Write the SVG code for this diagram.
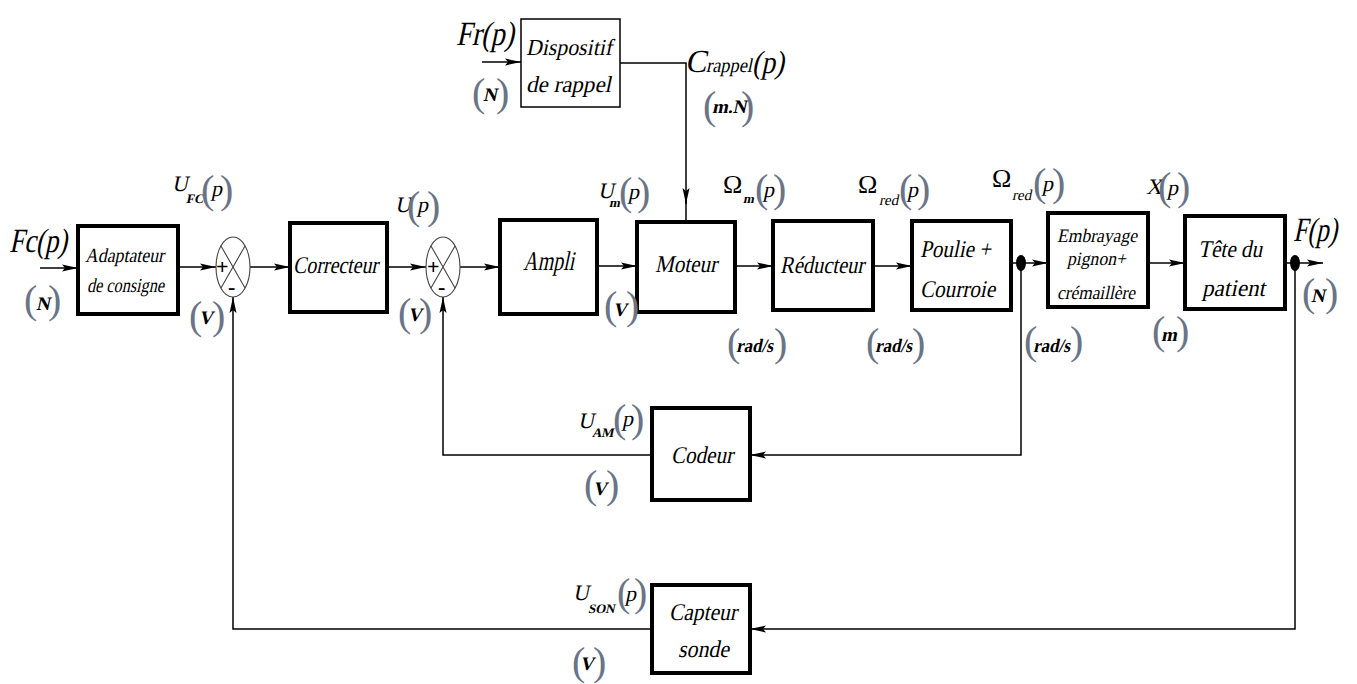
<svg xmlns="http://www.w3.org/2000/svg" width="1357" height="684" viewBox="0 0 1357 684">
<defs>
<style>
.bx{fill:#fff;stroke:#000;stroke-width:4}
.bt{fill:#fff;stroke:#000;stroke-width:1.5}
.sm{fill:#fff;stroke:#444;stroke-width:1.1}
.ln{fill:none;stroke:#000;stroke-width:1.5}
text{font-family:"Liberation Serif","Times New Roman",serif;font-style:normal;fill:#000}
.lb{font-size:24px}
.big{font-size:34px}
.par{font-size:40px;fill:#6a7487}
.u{font-size:19px;font-weight:bold}
.v{font-size:22px}
.s{font-size:13px;font-weight:bold}
.om{font-size:26px}
.sg{font-size:22px;font-weight:bold}
</style>
<marker id="ar" markerWidth="16" markerHeight="8" refX="16" refY="4" orient="auto" markerUnits="userSpaceOnUse">
<path d="M0,0.5 L16,4 L0,7.5 L3,4 Z" fill="#000"/>
</marker>
</defs>

<g id="connectors">
<path class="ln" d="M40,268 H78" marker-end="url(#ar)"/>
<path class="ln" d="M178,267 H216" marker-end="url(#ar)"/>
<path class="ln" d="M250,267 H290" marker-end="url(#ar)"/>
<path class="ln" d="M387,267 H426" marker-end="url(#ar)"/>
<path class="ln" d="M460,267 H500" marker-end="url(#ar)"/>
<path class="ln" d="M597,266 H637" marker-end="url(#ar)"/>
<path class="ln" d="M735,266 H773" marker-end="url(#ar)"/>
<path class="ln" d="M873,266 H912" marker-end="url(#ar)"/>
<path class="ln" d="M1011,263 H1048" marker-end="url(#ar)"/>
<path class="ln" d="M1148,263 H1185" marker-end="url(#ar)"/>
<path class="ln" d="M1285,263 H1323" marker-end="url(#ar)"/>
<path class="ln" d="M482,62 H521" marker-end="url(#ar)"/>
<path class="ln" d="M620,63 H686 V204" marker-end="url(#ar)"/>
<path class="ln" d="M686,200 V222"/>
<path class="ln" d="M1021,263 V455 H750" marker-end="url(#ar)"/>
<path class="ln" d="M652,455 H443 V297" marker-end="url(#ar)"/>
<path class="ln" d="M1295,263 V629 H750" marker-end="url(#ar)"/>
<path class="ln" d="M652,629 H233 V297" marker-end="url(#ar)"/>
<ellipse cx="1021" cy="263" rx="5" ry="8" fill="#000"/>
<ellipse cx="1295" cy="263" rx="5" ry="8" fill="#000"/>
</g>

<g id="adaptateur">
<rect class="bx" x="78" y="226" width="100" height="88"/>
<text transform="translate(85,262) skewX(-12)" font-size="20" textLength="79" lengthAdjust="spacingAndGlyphs">Adaptateur</text>
<text transform="translate(87,292) skewX(-12)" font-size="20" textLength="77" lengthAdjust="spacingAndGlyphs">de consigne</text>
</g>

<g id="sommateur1">
<ellipse class="sm" cx="233" cy="267" rx="17" ry="30"/>
<path class="sm" d="M221,246 L245,288 M245,246 L221,288"/>
<text class="sg" x="216" y="274">+</text>
<text class="sg" x="228" y="294">-</text>
</g>

<g id="correcteur">
<rect class="bx" x="290" y="223" width="97" height="89"/>
<text class="lb" transform="translate(293,273) skewX(-12)" textLength="85" lengthAdjust="spacingAndGlyphs">Correcteur</text>
</g>

<g id="sommateur2">
<ellipse class="sm" cx="443" cy="267" rx="17" ry="30"/>
<path class="sm" d="M431,246 L455,288 M455,246 L431,288"/>
<text class="sg" x="427" y="274">+</text>
<text class="sg" x="438" y="294">-</text>
</g>

<g id="ampli">
<rect class="bx" x="500" y="220" width="97" height="94"/>
<text transform="translate(523,270) skewX(-12)" font-size="27" textLength="51" lengthAdjust="spacingAndGlyphs">Ampli</text>
</g>

<g id="moteur">
<rect class="bx" x="637" y="222" width="98" height="90"/>
<text class="lb" transform="translate(655,272) skewX(-12)" textLength="62" lengthAdjust="spacingAndGlyphs">Moteur</text>
</g>

<g id="reducteur">
<rect class="bx" x="773" y="221" width="100" height="89"/>
<text class="lb" transform="translate(780,273) skewX(-12)" textLength="84" lengthAdjust="spacingAndGlyphs">Réducteur</text>
</g>

<g id="poulie">
<rect class="bx" x="912" y="221" width="99" height="89"/>
<text transform="translate(920,257) skewX(-12)" font-size="24" textLength="71" lengthAdjust="spacingAndGlyphs">Poulie +</text>
<text transform="translate(920,297) skewX(-12)" font-size="24" textLength="75" lengthAdjust="spacingAndGlyphs">Courroie</text>
</g>

<g id="embrayage">
<rect class="bx" x="1048" y="213" width="100" height="94"/>
<text transform="translate(1057,242) skewX(-12)" font-size="19" textLength="80" lengthAdjust="spacingAndGlyphs">Embrayage</text>
<text transform="translate(1067,265) skewX(-12)" font-size="19" textLength="59" lengthAdjust="spacingAndGlyphs">pignon+</text>
<text transform="translate(1057,299) skewX(-12)" font-size="19" textLength="78" lengthAdjust="spacingAndGlyphs">crémaillère</text>
</g>

<g id="tete">
<rect class="bx" x="1185" y="216" width="100" height="93"/>
<text class="lb" transform="translate(1198,257) skewX(-12)" textLength="64" lengthAdjust="spacingAndGlyphs">Tête du</text>
<text class="lb" transform="translate(1202,296) skewX(-12)" textLength="63" lengthAdjust="spacingAndGlyphs">patient</text>
</g>

<g id="dispositif">
<rect class="bt" x="521" y="19" width="99" height="88"/>
<text transform="translate(526,55) skewX(-12)" font-size="23" textLength="86" lengthAdjust="spacingAndGlyphs">Dispositif</text>
<text transform="translate(526,92) skewX(-12)" font-size="23" textLength="85" lengthAdjust="spacingAndGlyphs">de rappel</text>
</g>

<g id="codeur">
<rect class="bx" x="652" y="408" width="98" height="92"/>
<text class="lb" transform="translate(671,463) skewX(-12)" textLength="62" lengthAdjust="spacingAndGlyphs">Codeur</text>
</g>

<g id="capteur">
<rect class="bx" x="652" y="585" width="98" height="88"/>
<text class="lb" transform="translate(669,620) skewX(-12)" textLength="68" lengthAdjust="spacingAndGlyphs">Capteur</text>
<text class="lb" transform="translate(678,657) skewX(-12)" textLength="51" lengthAdjust="spacingAndGlyphs">sonde</text>
</g>

<g id="labels">
<text class="big" transform="translate(9,252) skewX(-12)" textLength="58" lengthAdjust="spacingAndGlyphs">Fc(p)</text>
<text class="big" transform="translate(456,45) skewX(-12)" textLength="58" lengthAdjust="spacingAndGlyphs">Fr(p)</text>
<text class="big" transform="translate(1293,241) skewX(-12)" textLength="44" lengthAdjust="spacingAndGlyphs">F(p)</text>
<text transform="translate(685,72) skewX(-12)" font-size="32">C</text>
<text transform="translate(706,72) skewX(-12)" font-size="20" textLength="46" lengthAdjust="spacingAndGlyphs">rappel</text>
<text transform="translate(752,73) skewX(-12)" font-size="32" textLength="32" lengthAdjust="spacingAndGlyphs">(p)</text>

<text class="v" transform="translate(172,191) skewX(-12)" font-size="20">U</text>
<text class="s" transform="translate(186,203) skewX(-12)">FC</text>
<text class="par" x="201" y="203">(</text>
<text class="v" transform="translate(211,196) skewX(-12)">p</text>
<text class="par" x="220" y="203">)</text>

<text class="v" transform="translate(395,212) skewX(-12)">U</text>
<text class="par" x="407" y="219">(</text>
<text class="v" transform="translate(417,212) skewX(-12)">p</text>
<text class="par" x="427" y="219">)</text>

<text class="v" transform="translate(598,198) skewX(-12)" font-size="20">U</text>
<text class="s" transform="translate(609,207) skewX(-12)">m</text>
<text class="par" x="619" y="205">(</text>
<text class="v" transform="translate(628,199) skewX(-12)">p</text>
<text class="par" x="637" y="205">)</text>

<text class="om" x="723" y="193">Ω</text>
<text class="s" transform="translate(743,203) skewX(-12)" font-size="15">m</text>
<text class="par" x="755" y="202">(</text>
<text class="v" transform="translate(763,197) skewX(-12)">p</text>
<text class="par" x="773" y="202">)</text>

<text class="om" x="858" y="193">Ω</text>
<text transform="translate(879,205) skewX(-12)" font-size="15">red</text>
<text class="par" x="899" y="202">(</text>
<text class="v" transform="translate(907,197) skewX(-12)">p</text>
<text class="par" x="917" y="202">)</text>

<text class="om" x="992" y="187">Ω</text>
<text transform="translate(1012,200) skewX(-12)" font-size="15">red</text>
<text class="par" x="1033" y="196">(</text>
<text class="v" transform="translate(1042,191) skewX(-12)">p</text>
<text class="par" x="1052" y="196">)</text>

<text class="v" transform="translate(1146,194) skewX(-12)" font-size="20">X</text>
<text class="par" x="1158" y="200">(</text>
<text class="v" transform="translate(1167,195) skewX(-12)">p</text>
<text class="par" x="1177" y="200">)</text>

<text class="v" transform="translate(578,428) skewX(-12)" font-size="20">U</text>
<text class="s" transform="translate(592,437) skewX(-12)">AM</text>
<text class="par" x="613" y="432">(</text>
<text class="v" transform="translate(622,426) skewX(-12)">p</text>
<text class="par" x="631" y="432">)</text>

<text class="v" transform="translate(573,600) skewX(-12)" font-size="20">U</text>
<text class="s" transform="translate(588,613) skewX(-12)">SON</text>
<text class="par" x="617" y="606">(</text>
<text class="v" transform="translate(625,601) skewX(-12)">p</text>
<text class="par" x="634" y="606">)</text>

<text class="par" x="24" y="313">(</text><text class="u" transform="translate(36,310) skewX(-12)">N</text><text class="par" x="48" y="313">)</text>
<text class="par" x="472" y="106">(</text><text class="u" transform="translate(483,101) skewX(-12)">N</text><text class="par" x="496" y="106">)</text>
<text class="par" x="1302" y="306">(</text><text class="u" transform="translate(1311,302) skewX(-12)">N</text><text class="par" x="1325" y="306">)</text>
<text class="par" x="703" y="119">(</text><text class="u" transform="translate(712,113) skewX(-12)" font-size="17">m.N</text><text class="par" x="741" y="119">)</text>

<text class="par" x="189" y="329">(</text><text class="u" transform="translate(199,324) skewX(-12)">V</text><text class="par" x="212" y="329">)</text>
<text class="par" x="398" y="326">(</text><text class="u" transform="translate(408,321) skewX(-12)">V</text><text class="par" x="419" y="326">)</text>
<text class="par" x="604" y="319">(</text><text class="u" transform="translate(613,316) skewX(-12)">V</text><text class="par" x="626" y="319">)</text>
<text class="par" x="584" y="498">(</text><text class="u" transform="translate(593,495) skewX(-12)">V</text><text class="par" x="606" y="498">)</text>
<text class="par" x="572" y="675">(</text><text class="u" transform="translate(580,670) skewX(-12)">V</text><text class="par" x="593" y="675">)</text>

<text class="par" x="727" y="356">(</text><text class="u" transform="translate(736,352) skewX(-12)" textLength="37" lengthAdjust="spacingAndGlyphs">rad/s</text><text class="par" x="774" y="356">)</text>
<text class="par" x="866" y="356">(</text><text class="u" transform="translate(875,352) skewX(-12)" textLength="37" lengthAdjust="spacingAndGlyphs">rad/s</text><text class="par" x="912" y="356">)</text>
<text class="par" x="1024" y="354">(</text><text class="u" transform="translate(1033,352) skewX(-12)" textLength="37" lengthAdjust="spacingAndGlyphs">rad/s</text><text class="par" x="1070" y="354">)</text>
<text class="par" x="1152" y="344">(</text><text class="u" transform="translate(1161,341) skewX(-12)">m</text><text class="par" x="1176" y="344">)</text>
</g>
</svg>
